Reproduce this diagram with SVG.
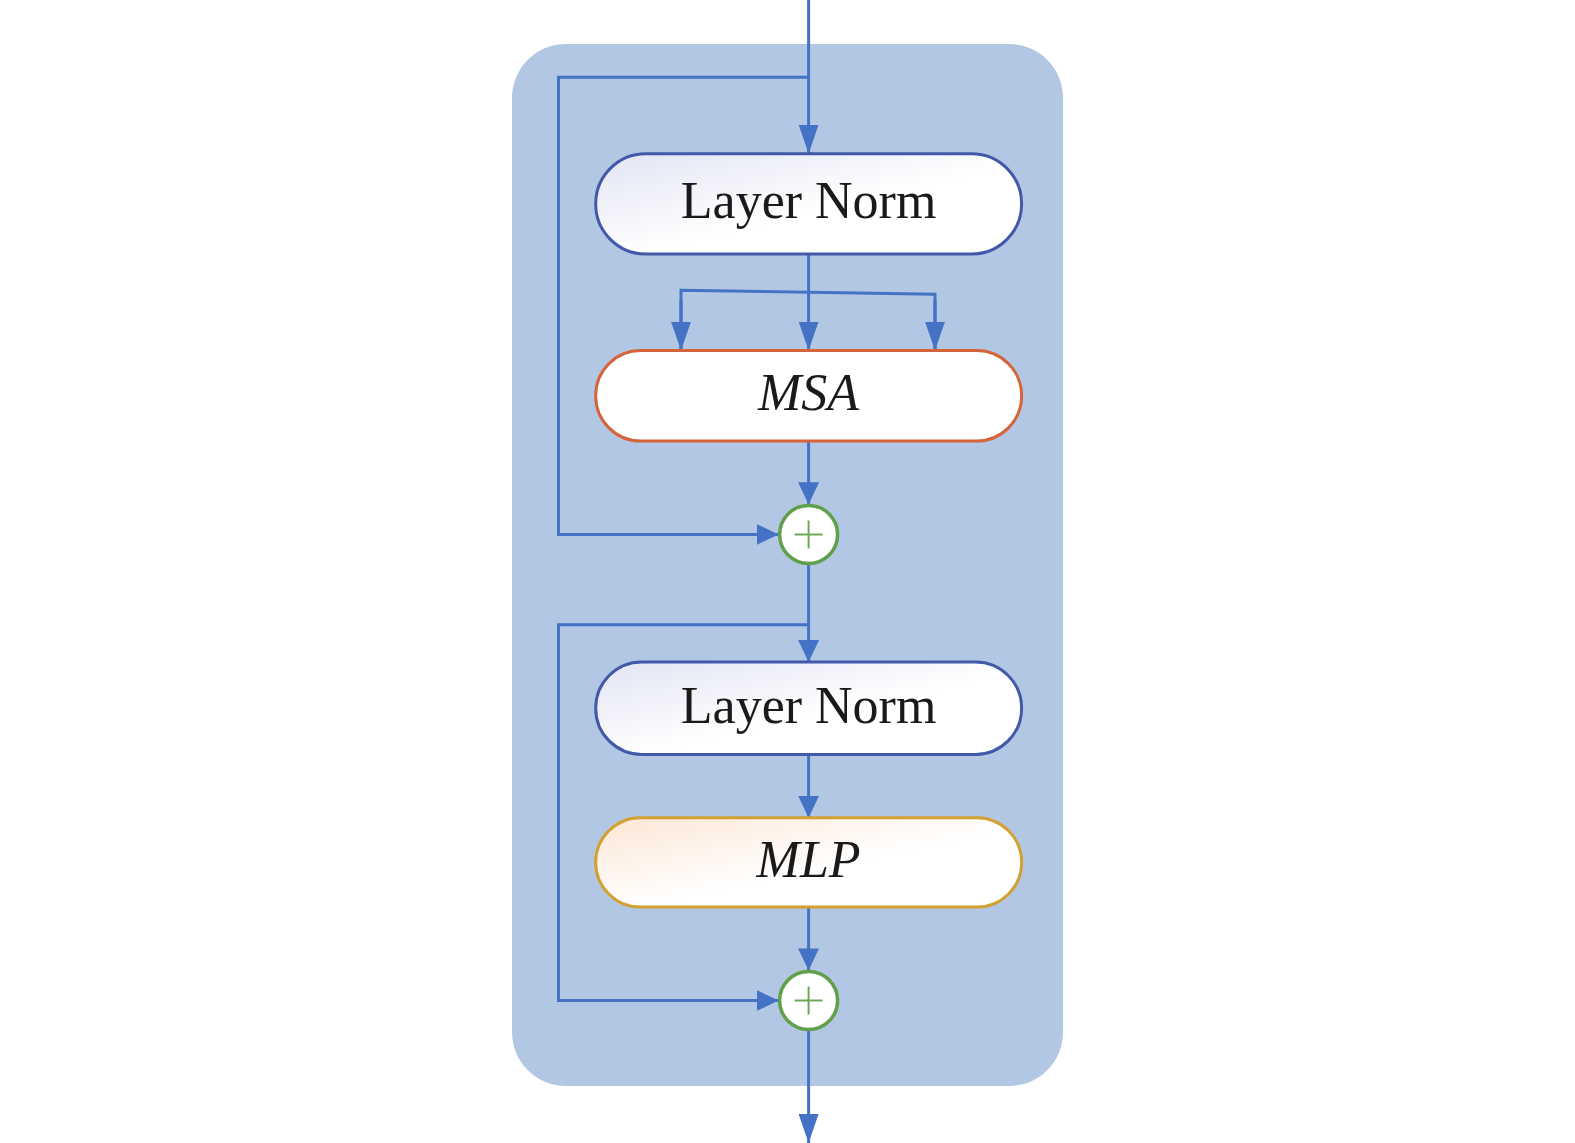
<svg xmlns="http://www.w3.org/2000/svg" width="1575" height="1143" viewBox="0 0 1575 1143">
<style>
.conn{fill:none;stroke:#4472C4;stroke-width:3}
.box{stroke-width:3}
.lbl{font-family:"Liberation Serif","Times New Roman",serif;font-size:52px;fill:#1a1a1a;text-anchor:middle}
.it{font-style:italic}
.add{fill:#fff;stroke:#5FA04A;stroke-width:3.5}
.plus{stroke:#6AAA55;stroke-width:2;fill:none}
</style>
<defs>
<marker id="aL" markerUnits="userSpaceOnUse" markerWidth="29" markerHeight="20" refX="29" refY="10" orient="auto"><path d="M0,0 L29,10 L0,20 z" fill="#4472C4"/></marker>
<marker id="aS" markerUnits="userSpaceOnUse" markerWidth="22" markerHeight="21" refX="22" refY="10.5" orient="auto"><path d="M0,0 L22,10.5 L0,21 z" fill="#4472C4"/></marker>
<linearGradient id="gLN" x1="0" y1="0" x2="1" y2="1"><stop offset="0" stop-color="#E2E4F3"/><stop offset="0.55" stop-color="#ffffff"/></linearGradient>
<linearGradient id="gMLP" x1="0" y1="0" x2="1" y2="1"><stop offset="0" stop-color="#FCE6D4"/><stop offset="0.55" stop-color="#ffffff"/></linearGradient>
</defs>
<rect id="block" x="512" y="44" width="551" height="1042" rx="54" fill="#B2C7E3"/>
<g id="connectors">
<path class="conn" d="M808.6,0 V153.7" marker-end="url(#aL)"/>
<path class="conn" d="M808.6,77.3 H558.5 V534.4 H778.5" marker-end="url(#aS)"/>
<path class="conn" d="M808.6,254 V350.6" marker-end="url(#aL)"/>
<path class="conn" d="M681,350.6 V290.3 L935,294.3 V350.6"/>
<path class="conn" d="M681,300 V350.6" marker-end="url(#aL)"/>
<path class="conn" d="M935,300 V350.6" marker-end="url(#aL)"/>
<path class="conn" d="M808.6,441 V504.3" marker-end="url(#aS)"/>
<path class="conn" d="M808.6,564.5 V662" marker-end="url(#aS)"/>
<path class="conn" d="M808.6,624.8 H558.5 V1000.5 H778.5" marker-end="url(#aS)"/>
<path class="conn" d="M808.6,754.4 V817.7" marker-end="url(#aS)"/>
<path class="conn" d="M808.6,907 V970.4" marker-end="url(#aS)"/>
<path class="conn" d="M808.6,1030.6 V1143" marker-end="url(#aL)"/>
</g>
<g id="ln1">
<rect class="box" x="595.7" y="153.7" width="425.9" height="100.3" rx="50" fill="url(#gLN)" stroke="#4159A8"/>
<text class="lbl" x="808.6" y="218">Layer Norm</text>
</g>
<g id="msa">
<rect class="box" x="595.7" y="350.6" width="425.9" height="90.4" rx="45" fill="#ffffff" stroke="#D6643A"/>
<text class="lbl it" x="808.6" y="410">MSA</text>
</g>
<g id="add1">
<circle class="add" cx="808.6" cy="534.4" r="29"/>
<path class="plus" d="M794.6,534.4 H822.6 M808.6,520.4 V548.4"/>
</g>
<g id="ln2">
<rect class="box" x="595.7" y="662" width="425.9" height="92.4" rx="46" fill="url(#gLN)" stroke="#4159A8"/>
<text class="lbl" x="808.6" y="723">Layer Norm</text>
</g>
<g id="mlp">
<rect class="box" x="595.7" y="817.7" width="425.9" height="89.3" rx="44.6" fill="url(#gMLP)" stroke="#D3A032"/>
<text class="lbl it" x="808.6" y="877">MLP</text>
</g>
<g id="add2">
<circle class="add" cx="808.6" cy="1000.5" r="29"/>
<path class="plus" d="M794.6,1000.5 H822.6 M808.6,986.5 V1014.5"/>
</g>
</svg>
